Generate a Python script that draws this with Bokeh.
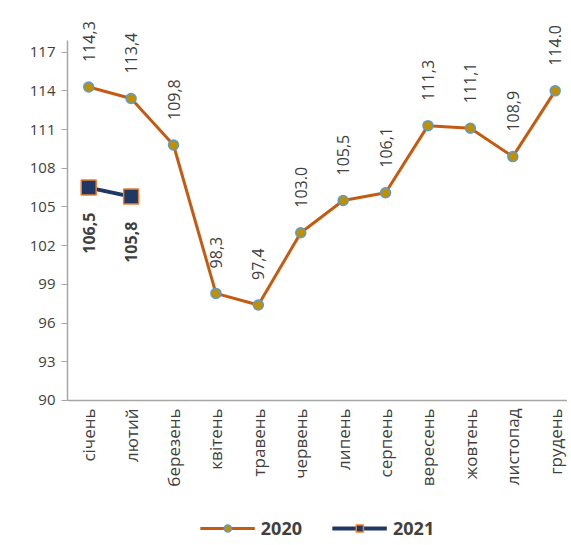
import math
from bokeh.plotting import figure
from bokeh.models import ColumnDataSource, FixedTicker, Legend, LegendItem, Range1d
from bokeh.core.properties import value
from bokeh.embed import file_html
from bokeh.resources import INLINE

months = ["січень", "лютий", "березень", "квітень", "травень", "червень",
          "липень", "серпень", "вересень", "жовтень", "листопад", "грудень"]
values_2020 = [114.3, 113.4, 109.8, 98.3, 97.4, 103.0, 105.5, 106.1, 111.3, 111.1, 108.9, 114.0]
labels_2020 = ["114,3", "113,4", "109,8", "98,3", "97,4", "103.0", "105,5", "106,1",
               "111,3", "111,1", "108,9", "114.0"]
values_2021 = [106.5, 105.8]
labels_2021 = ["106,5", "105,8"]
y_ticks = [90, 93, 96, 99, 102, 105, 108, 111, 114, 117]
y_min, y_axis_top = 90, 117.9

FONT = "Open Sans"
TXT = "#404040"

x20 = list(range(len(months)))
x21 = list(range(len(values_2021)))
src20 = ColumnDataSource(dict(x=x20, y=values_2020, t=labels_2020))
src21 = ColumnDataSource(dict(x=x21, y=values_2021, t=labels_2021))

# frame covers the full height; value 90 sits 400px below the top
p = figure(frame_width=500, frame_height=545, output_backend="svg", toolbar_location=None,
           x_range=Range1d(-0.5, 11.29), y_range=Range1d(78.76, 121.0),
           min_border_left=67, min_border_right=0, min_border_top=0, min_border_bottom=0)
p.outline_line_color = None
p.xgrid.visible = False
p.ygrid.visible = False

l20 = p.line("x", "y", source=src20, line_color="#C55A11", line_width=3)
m20 = p.scatter("x", "y", source=src20, marker="circle", size=10,
                fill_color="#BF9000", line_color="#5B9BD5", line_width=1.5)
l21 = p.line("x", "y", source=src21, line_color="#1F3864", line_width=4)
m21 = p.scatter("x", "y", source=src21, marker="square", size=15,
                fill_color="#1F3864", line_color="#ED7D31", line_width=1.5)

p.text("x", "y", text="t", source=src20, angle=math.pi / 2, y_offset=-25,
       text_align="left", text_baseline="middle", text_font=value(FONT),
       text_font_size="16px", text_color=TXT)
p.text("x", "y", text="t", source=src21, angle=math.pi / 2, y_offset=25,
       text_align="right", text_baseline="middle", text_font=value(FONT),
       text_font_size="16px", text_font_style="bold", text_color=TXT)

p.xaxis.fixed_location = y_min
p.xaxis.ticker = FixedTicker(ticks=x20)
p.xaxis.major_label_overrides = {i: m for i, m in enumerate(months)}
p.xaxis.major_label_orientation = math.pi / 2
p.xaxis.major_tick_in = 0
p.xaxis.major_tick_out = 0
p.xaxis.minor_tick_in = 0
p.xaxis.minor_tick_out = 0
p.xaxis.major_tick_line_color = None
p.xaxis.minor_tick_line_color = None
p.xaxis.axis_line_color = "#A6A6A6"
p.xaxis.axis_line_width = 1.5
p.xaxis.major_label_text_font = FONT
p.xaxis.major_label_text_font_size = "17px"
p.xaxis.major_label_text_color = TXT
p.xaxis.major_label_standoff = 8

p.yaxis.ticker = FixedTicker(ticks=y_ticks)
p.yaxis.bounds = (y_min, y_axis_top)
p.yaxis.minor_tick_line_color = None
p.yaxis.major_tick_in = 0
p.yaxis.major_tick_out = 6
p.yaxis.major_tick_line_color = "#A6A6A6"
p.yaxis.axis_line_color = "#A6A6A6"
p.yaxis.axis_line_width = 1.5
p.yaxis.major_label_text_font = FONT
p.yaxis.major_label_text_font_size = "15px"
p.yaxis.major_label_text_color = TXT
p.yaxis.major_label_standoff = 6

legend = Legend(items=[LegendItem(label="2020", renderers=[l20, m20]),
                       LegendItem(label="2021", renderers=[l21, m21])],
                orientation="horizontal", location="bottom_center",
                glyph_width=55, glyph_height=18, label_height=18, label_standoff=6, spacing=30,
                label_text_font=FONT, label_text_font_size="18px",
                label_text_font_style="bold", label_text_color=TXT,
                border_line_color=None, background_fill_alpha=0, padding=0, margin=5)
p.add_layout(legend, "center")

open("out.html", "w").write(file_html(p, INLINE))
